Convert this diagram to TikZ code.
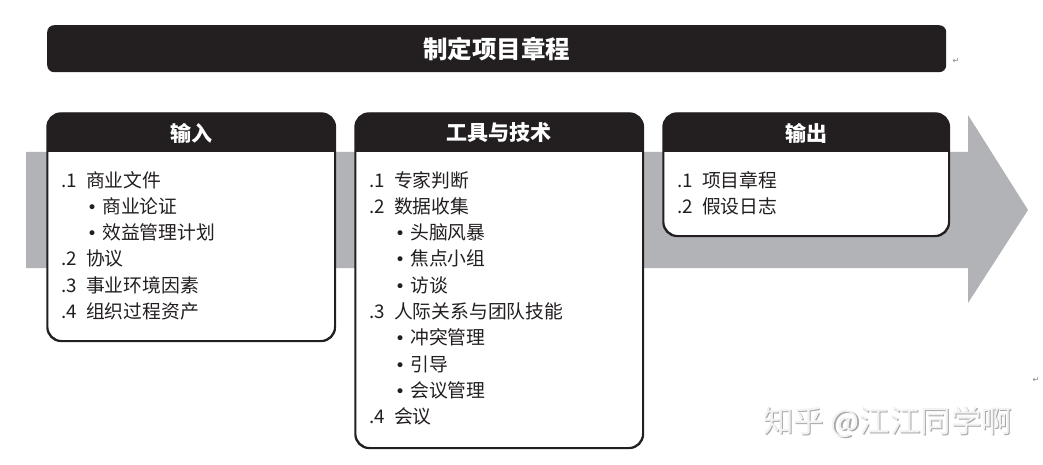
\documentclass[tikz,border=0pt]{standalone}
\usepackage{fontspec}
\setmainfont{Noto Sans CJK SC}
\newfontfamily\dejavu{DejaVu Sans}
\definecolor{ink}{HTML}{231F20}
\definecolor{band}{HTML}{B1B3B6}
\definecolor{wmark}{HTML}{F2F2F2}
\definecolor{wshade}{HTML}{A8A8A8}
\newcommand\nm[1]{\makebox[25pt][l]{#1}}
\newcommand\bl{\makebox[16pt][l]{\hspace{1pt}{\dejavu\fontsize{17}{20}\selectfont •}}}
\tikzset{
  titlebar/.style={fill=ink, rounded corners=7pt, inner sep=0pt, text=white,
    font=\fontsize{24.5}{28}\selectfont\bfseries},
  panel/.style={draw=ink, fill=white, line width=1.4pt, rounded corners=14pt, inner sep=0pt},
  hdrtext/.style={text=white, inner sep=0pt, font=\fontsize{21}{24}\selectfont\bfseries},
  item/.style={anchor=base west, inner sep=0pt, text=ink, font=\fontsize{18.8}{22}\selectfont},
  retmark/.style={text=gray, inner sep=0pt, font=\dejavu\fontsize{8}{9}\selectfont},
}
\begin{document}
\begin{tikzpicture}[x=1pt,y=-1pt]
\useasboundingbox (0,0) rectangle (1043,465);
% big gray arrow
\fill[band] (26,152) -- (968,152) -- (968,115) -- (1028,210) -- (968,303) -- (968,268) -- (26,268) -- cycle;
% title bar
\node[titlebar, minimum width=899pt, minimum height=47pt, anchor=north west] (title) at (47,25) {制定项目章程};
\node[retmark] (ret1) at (956,61) {↵};
% panels
\node[panel, minimum width=287pt, minimum height=227pt, anchor=north west] (inp) at (47,113) {};
\node[panel, minimum width=287pt, minimum height=334pt, anchor=north west] (tool) at (355,113) {};
\node[panel, minimum width=285pt, minimum height=122pt, anchor=north west] (outp) at (663,113) {};
\foreach \p in {inp,tool,outp}{
  \fill[ink] ([yshift=-39pt]\p.north west) {[rounded corners=14pt] -- (\p.north west) -- (\p.north east)} -- ([yshift=-39pt]\p.north east) -- cycle;
  \draw[ink, line width=1.4pt, rounded corners=14pt] (\p.north west) rectangle (\p.south east);
}
\node[hdrtext] (inph) at ([yshift=-20pt]inp.north) {输入};
\node[hdrtext] (toolh) at ([yshift=-20pt]tool.north) {工具与技术};
\node[hdrtext] (outph) at ([yshift=-20pt]outp.north) {输出};
% input items
\node[item] (i1) at (61,187) {\nm{.1}商业文件};
\node[item] (i2) at (86,213.3) {\bl 商业论证};
\node[item] (i3) at (86,239.6) {\bl 效益管理计划};
\node[item] (i4) at (61,265.9) {\nm{.2}协议};
\node[item] (i5) at (61,292.2) {\nm{.3}事业环境因素};
\node[item] (i6) at (61,318.2) {\nm{.4}组织过程资产};
% tools items
\node[item] (t1) at (369,187) {\nm{.1}专家判断};
\node[item] (t2) at (369,213.3) {\nm{.2}数据收集};
\node[item] (t3) at (394,239.6) {\bl 头脑风暴};
\node[item] (t4) at (394,265.9) {\bl 焦点小组};
\node[item] (t5) at (394,292.2) {\bl 访谈};
\node[item] (t6) at (369,318.5) {\nm{.3}人际关系与团队技能};
\node[item] (t7) at (394,344.8) {\bl 冲突管理};
\node[item] (t8) at (394,371.1) {\bl 引导};
\node[item] (t9) at (394,397.4) {\bl 会议管理};
\node[item] (t10) at (369,423.7) {\nm{.4}会议};
% output items
\node[item] (o1) at (677,187) {\nm{.1}项目章程};
\node[item] (o2) at (677,213.3) {\nm{.2}假设日志};
% watermark
\node[anchor=west, inner sep=0pt, text=wshade, font=\fontsize{30.5}{34}\selectfont] (wm2) at (764,423) {知乎 @江江同学啊};
\node[anchor=west, inner sep=0pt, text=wmark, font=\fontsize{30.5}{34}\selectfont] (wm) at (762.8,421.8) {知乎 @江江同学啊};
\node[retmark] (ret2) at (1036,380) {↵};
\end{tikzpicture}
\end{document}
